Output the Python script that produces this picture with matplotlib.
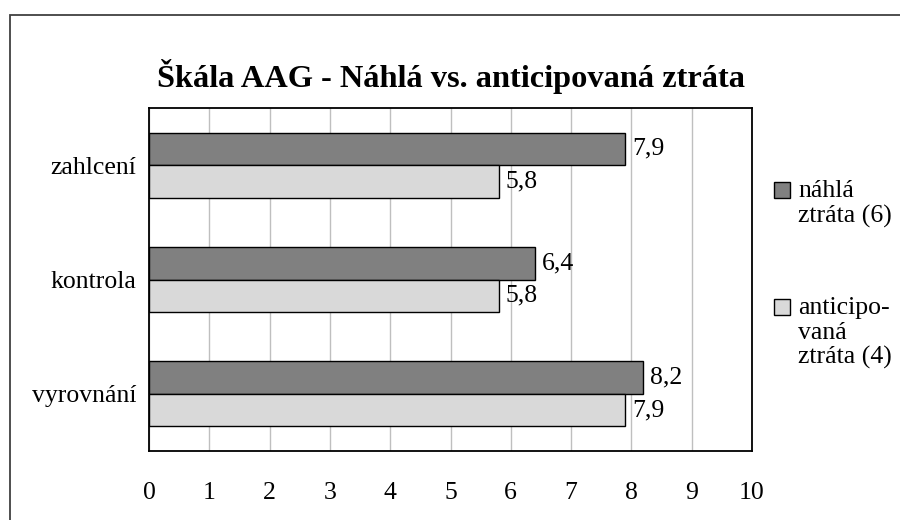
import matplotlib.pyplot as plt
import matplotlib.patches as mpatches
import numpy as np

plt.rcParams["font.family"] = ["Liberation Serif", "DejaVu Serif"]

# data
categories = ["zahlcení", "kontrola", "vyrovnání"]
nahla = [7.9, 6.4, 8.2]
anticip = [5.8, 5.8, 7.9]
series_labels = ["náhlá\nztráta (6)", "anticipo-\nvaná\nztráta (4)"]
x_ticks = list(range(0, 11))

c_dark = "#808080"
c_light = "#d9d9d9"
fs = 18.5

fig = plt.figure(figsize=(9, 5.2), dpi=100)
ax = fig.add_axes([149 / 900, 1 - 451 / 520, 603 / 900, 343 / 520])

y = np.arange(len(categories))
h = 0.284
b1 = ax.barh(y - h / 2, nahla, height=h, color=c_dark, edgecolor="black", linewidth=1.0, zorder=3)
b2 = ax.barh(y + h / 2, anticip, height=h, color=c_light, edgecolor="black", linewidth=1.0, zorder=3)

for bars, vals in [(b1, nahla), (b2, anticip)]:
    ax.bar_label(bars, labels=[f"{v:.1f}".replace(".", ",") for v in vals],
                 padding=5, fontsize=fs)

ax.set_xlim(0, 10)
ax.set_ylim(2.5, -0.5)
ax.set_xticks(x_ticks)
ax.set_yticks(y)
ax.set_yticklabels(categories)
ax.tick_params(axis="both", length=0, labelsize=fs)
ax.tick_params(axis="x", pad=22)
ax.tick_params(axis="y", pad=9)
ax.grid(axis="x", color="#bfbfbf", linewidth=1.0, zorder=0)
for s in ax.spines.values():
    s.set_linewidth(1.3)
    s.set_color("black")

# title
fig.text(451 / 900, 1 - 77 / 520, "Škála AAG - Náhlá vs. anticipovaná ztráta",
         ha="center", va="center", fontsize=23.3, fontweight="bold")

# legend, drawn by hand so the square sits on the first line
leg_y = [190, 307]
for yy, col, lab in zip(leg_y, [c_dark, c_light], series_labels):
    fig.patches.append(mpatches.Rectangle((774 / 900, 1 - (yy + 8) / 520), 16 / 900, 16 / 520,
                                          transform=fig.transFigure, facecolor=col,
                                          edgecolor="black", linewidth=1.0))
    fig.text(798 / 900, 1 - (yy - 10) / 520, lab, ha="left", va="top",
             fontsize=fs, linespacing=1.15)

# outer chart border
fig.patches.append(mpatches.Rectangle((10 / 900, -0.1), 1.2, 1 - 15 / 520 + 0.1,
                                      transform=fig.transFigure, facecolor="none",
                                      edgecolor="#404040", linewidth=1.3))

fig.savefig("out.png", dpi=100)
